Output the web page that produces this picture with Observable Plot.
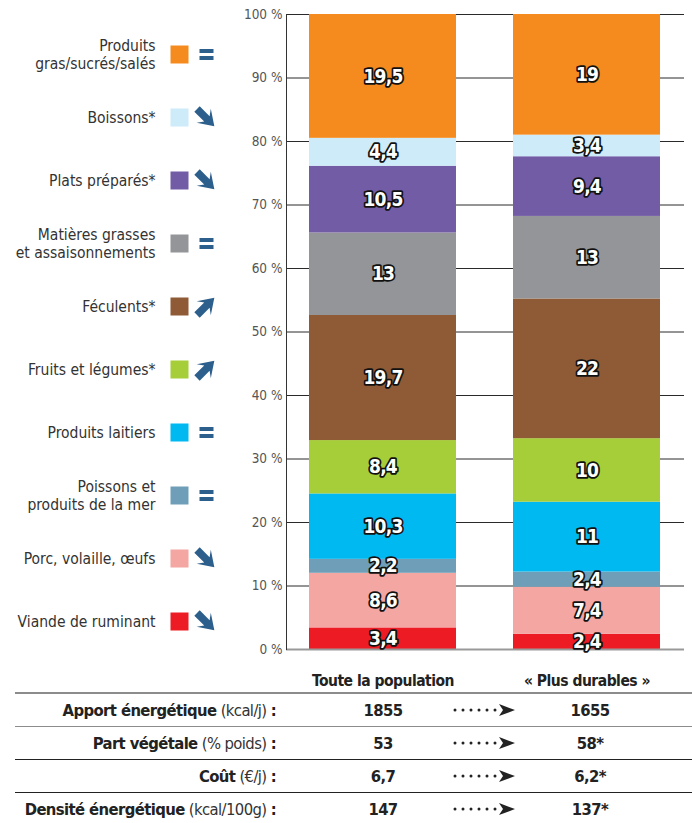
<!DOCTYPE html>
<html>
<head>
<meta charset="utf-8">
<script src="https://cdn.jsdelivr.net/npm/d3@7"></script>
<script src="https://cdn.jsdelivr.net/npm/@observablehq/plot@0.6"></script>
<style>
  html, body { margin: 0; padding: 0; background: #fff; }
  #wrap { width: 692px; }
  #topRow { display: flex; }
  .tbl { margin-left: 15px; width: 677px; border-top: 2px solid #8c8c8c; color: #222; }
  .row { display: grid; grid-template-columns: 305px 126px 76px 136px 34px; height: 32px; align-items: center; font-size: 16.5px; letter-spacing: -0.6px; }
  .row.r1 { border-top: 1.5px solid #8c8c8c; }
  .row.r2, .row.r3 { border-top: 1.5px solid #222; }
  .lab { text-align: right; padding-right: 44px; white-space: nowrap; }
  .lab b { font-weight: bold; }
  .lab span { font-weight: normal; color: #333; }
  .val { text-align: center; font-weight: bold; }
  .arr { display: flex; justify-content: center; }
  .bars g[aria-label="x-axis tick label"] text { letter-spacing: -0.5px; }
  .bars g[aria-label="text"] text { letter-spacing: -0.8px; }
</style>
</head>
<body>
<div id="wrap">
  <div id="topRow"></div>
  <div id="table" class="tbl"></div>
</div>
<script>
// ---- data ----
const categories = [
  "Viande de ruminant",
  "Porc, volaille, œufs",
  "Poissons et\nproduits de la mer",
  "Produits laitiers",
  "Fruits et légumes*",
  "Féculents*",
  "Matières grasses\net assaisonnements",
  "Plats préparés*",
  "Boissons*",
  "Produits\ngras/sucrés/salés"
];
const population = [3.4, 8.6, 2.2, 10.3, 8.4, 19.7, 13, 10.5, 4.4, 19.5];
const durables   = [2.4, 7.4, 2.4, 11, 10, 22, 13, 9.4, 3.4, 19];
const trends = ["down", "down", "equal", "equal", "up", "up", "equal", "down", "down", "equal"];
const colors = ["#ed1c24", "#f4a6a2", "#6f9fb8", "#00b9f1", "#a6ce39", "#8f5b37", "#939598", "#735ca6", "#cdebf8", "#f58b1f"];
const groups = ["Toute la population", "« Plus durables »"];
const yTicks = [0, 10, 20, 30, 40, 50, 60, 70, 80, 90, 100];

const tableLabels = ["Apport énergétique", "Part végétale", "Coût", "Densité énergétique"];
const tableUnits = ["(kcal/j)", "(% poids)", "(€/j)", "(kcal/100g)"];
const tablePopulation = ["1855", "53", "6,7", "147"];
const tableDurables = ["1655", "58*", "6,2*", "137*"];

// ---- build ----
const FONT = "'Liberation Sans Narrow', 'DejaVu Sans Condensed', 'Arial Narrow', sans-serif";
document.getElementById("wrap").style.fontFamily = FONT;
const symColor = "#2d5f8c";
const fmt = v => String(v).replace(".", ",");

const stackData = [];
groups.forEach((g, gi) => {
  const vals = gi === 0 ? population : durables;
  categories.forEach((c, i) => stackData.push({group: g, category: c, value: vals[i]}));
});
const legendData = categories.map((c, i) => ({category: c, trend: trends[i]})).reverse();

const equalSym = {
  draw(ctx) {
    ctx.rect(-7, -5.6, 14, 4);
    ctx.rect(-7, 1.6, 14, 4);
  }
};
function arrowSym(angleDeg) {
  const a = angleDeg * Math.PI / 180, c = Math.cos(a), s = Math.sin(a);
  const pts = [[-12, -3.8], [2, -3.8], [-2.5, -10], [12.5, 0], [-2.5, 10], [2, 3.8], [-12, 3.8]];
  return {
    draw(ctx) {
      pts.forEach(([x, y], i) => {
        const X = x * c - y * s, Y = x * s + y * c;
        i ? ctx.lineTo(X, Y) : ctx.moveTo(X, Y);
      });
      ctx.closePath();
    }
  };
}
const downSym = arrowSym(45), upSym = arrowSym(-45);
const colorScale = {domain: categories, range: colors};

const legend = Plot.plot({
  width: 230, height: 692,
  marginLeft: 0, marginRight: 0, marginTop: 51, marginBottom: 68,
  style: {fontFamily: FONT, background: "white"},
  y: {type: "point", domain: legendData.map(d => d.category), padding: 0, axis: null},
  color: colorScale,
  marks: [
    Plot.text(legendData, {y: "category", text: "category", frameAnchor: "right", dx: -75, textAnchor: "end", lineAnchor: "middle", lineHeight: 1.12, fontSize: 15.5, fill: "#333"}),
    Plot.dot(legendData, {y: "category", frameAnchor: "right", dx: -51, symbol: "square", r: 10.16, fill: "category", stroke: "none"}),
    Plot.dot(legendData.filter(d => d.trend === "equal"), {y: "category", frameAnchor: "right", dx: -24, symbol: equalSym, fill: symColor, stroke: "none"}),
    Plot.dot(legendData.filter(d => d.trend === "down"), {y: "category", frameAnchor: "right", dx: -25, symbol: downSym, fill: symColor, stroke: "none"}),
    Plot.dot(legendData.filter(d => d.trend === "up"), {y: "category", frameAnchor: "right", dx: -25, symbol: upSym, fill: symColor, stroke: "none"})
  ]
});

const bars = Plot.plot({
  className: "bars",
  width: 462, height: 692,
  marginLeft: 56, marginRight: 8, marginTop: 14, marginBottom: 43,
  style: {fontFamily: FONT, background: "white"},
  x: {domain: groups, paddingInner: 0.278, paddingOuter: 0.11, label: null},
  y: {domain: [0, 100], label: null},
  color: colorScale,
  marks: [
    Plot.gridY(yTicks, {stroke: "#2a2a2a", strokeOpacity: 1, strokeWidth: 1}),
    Plot.barY(stackData, {x: "group", y: "value", fill: "category", z: "category"}),
    Plot.ruleY([0], {stroke: "#999", strokeWidth: 2}),
    Plot.frame({anchor: "left", stroke: "#333"}),
    Plot.axisY(yTicks, {tickSize: 0, tickPadding: 4, tickFormat: d => d + " %", fontSize: 13.5, fill: "#555", label: null}),
    Plot.axisX({tickSize: 0, tickPadding: 25, fontSize: 15.5, fontWeight: "bold", fill: "#222", label: null}),
    Plot.text(stackData, Plot.stackY({x: "group", y: "value", z: "category", text: d => fmt(d.value), fill: "white", stroke: "#111", strokeWidth: 3.5, paintOrder: "stroke", fontWeight: "bold", fontSize: 19}))
  ]
});

const topRow = document.getElementById("topRow");
topRow.appendChild(legend);
topRow.appendChild(bars);

const arrowSvg = '<svg width="64" height="14" viewBox="0 0 64 14">' +
  [3, 11, 19, 27, 35, 43].map(x => `<circle cx="${x}" cy="7" r="1.5" fill="#222"/>`).join("") +
  '<polygon points="47,1 63,7 47,13 51,7" fill="#222"/></svg>';

const tbl = document.getElementById("table");
tableLabels.forEach((lab, i) => {
  const row = document.createElement("div");
  row.className = "row r" + i;
  row.innerHTML = `<div class="lab"><b>${lab}</b> <span>${tableUnits[i]}</span> <b>:</b></div>` +
    `<div class="val">${tablePopulation[i]}</div><div class="arr">${arrowSvg}</div>` +
    `<div class="val">${tableDurables[i]}</div><div></div>`;
  tbl.appendChild(row);
});
</script>
</body>
</html>
